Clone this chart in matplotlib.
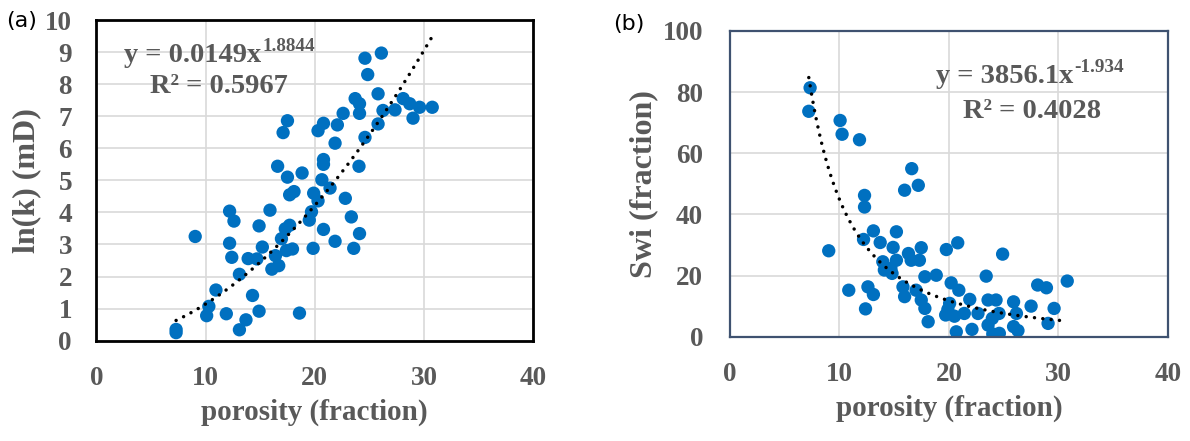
import numpy as np
import matplotlib
matplotlib.use("Agg")
import matplotlib.pyplot as plt

plt.rcParams['font.family'] = ['Liberation Serif', 'DejaVu Serif']

# panel (a): porosity vs ln(k)
phi_a = [7.3, 7.3, 9.05, 10.1, 10.3, 10.95, 11.9, 12.2, 12.6, 12.2, 12.4, 13.1,
         13.1, 13.7, 13.9, 14.3, 14.9, 14.9, 14.7, 15.2, 15.9, 16.07, 16.7, 16.4,
         16.95, 17.3, 17.7, 17.4, 17.96, 16.6, 17.1, 17.5, 17.5, 17.7, 18.1, 18.84,
         18.6, 19.5, 19.7, 19.85, 19.9, 20.3, 20.65, 20.8, 20.8, 20.3, 20.8, 20.8,
         21.4, 21.86, 21.86, 22.07, 22.6, 22.8, 23.35, 23.57, 24.1, 24.05, 23.7,
         24.1, 24.1, 24.6, 24.6, 24.85, 25.8, 25.8, 26.1, 26.25, 27.35, 28.1,
         28.7, 29.0, 29.6, 30.76]
lnk = [0.35, 0.25, 3.25, 0.78, 1.07, 1.58, 0.84, 4.04, 3.73, 3.04, 2.6, 2.07,
       0.34, 0.65, 2.56, 1.41, 0.92, 3.58, 2.55, 2.92, 4.07, 2.23, 2.34, 2.65,
       3.18, 3.49, 3.6, 2.81, 2.86, 5.44, 6.49, 6.86, 5.1, 4.55, 4.65, 5.23,
       0.86, 3.76, 4.02, 2.88, 4.6, 4.36, 5.02, 5.65, 5.5, 6.55, 6.78, 3.47,
       4.76, 3.1, 6.16, 6.73, 7.09, 4.44, 3.86, 2.88, 3.34, 5.44, 7.55,
       7.39, 7.09, 6.34, 8.81, 8.3, 7.7, 6.76, 8.97, 7.18, 7.2, 7.55,
       7.39, 6.94, 7.28, 7.28]

# panel (b): porosity vs Swi
phi_b = [7.32, 7.2, 10.06, 10.24, 11.83, 9.02, 10.85, 12.29, 12.29, 12.2, 12.6,
         13.1, 12.38, 13.1, 13.72, 13.96, 14.7, 14.9, 15.2, 15.2, 14.8, 15.95,
         16.6, 17.2, 16.3, 16.55, 17.3, 17.47, 15.8, 15.95, 17.0, 17.47, 17.8,
         17.8, 18.1, 18.84, 19.76, 20.8, 20.2, 20.9, 20.06, 19.7, 20.5, 20.67,
         21.4, 21.9, 22.1, 22.65, 23.4, 23.57, 24.3, 23.96, 24.57, 23.57, 24.0,
         24.6, 24.9, 25.9, 26.16, 25.9, 26.3, 27.5, 28.1, 28.9, 29.6, 29.05,
         30.8, 14.1, 19.9]
swi = [81.4, 73.7, 70.7, 66.2, 64.4, 28.1, 15.2, 46.2, 42.4, 31.8, 16.3,
       13.8, 9.1, 34.6, 30.8, 24.5, 22.3, 29.2, 34.3, 25.0, 20.7, 47.9,
       54.95, 49.5, 27.2, 25.0, 25.0, 29.1, 16.3, 13.1, 15.2, 12.0, 19.6,
       9.25, 4.9, 20.1, 28.5, 30.7, 17.6, 15.2, 10.9, 7.1, 6.7, 1.6,
       7.6, 12.2, 2.4, 7.6, 19.8, 12.0, 12.0, 6.0, 7.6, 3.8, 0.9,
       1.1, 27.0, 11.4, 7.6, 3.3, 2.0, 10.0, 16.9, 16.0, 9.25, 4.35,
       18.2, 21.8, 8.9]

blue = '#0070C0'
gray = '#595959'
grid_c = '#D9D9D9'


def style_axes(ax, frame_color, frame_lw, ypad):
    ax.set_xlim(0, 40)
    ax.set_xticks([0, 10, 20, 30, 40])
    ax.grid(True, color=grid_c, linewidth=1.2)
    ax.set_axisbelow(True)
    ax.tick_params(length=0, labelsize=19.5, labelcolor=gray)
    ax.tick_params(axis='x', pad=18)
    ax.tick_params(axis='y', pad=ypad)
    for lab in ax.get_xticklabels() + ax.get_yticklabels():
        lab.set_fontweight('bold')
    for sp in ax.spines.values():
        sp.set_color(frame_color)
        sp.set_linewidth(frame_lw)
    ax.set_xlabel('porosity (fraction)', fontsize=21, fontweight='bold',
                  color=gray, labelpad=6)


def equation(ax, x, y, base, power, r2, x2, y2):
    t = ax.text(x, y, base, transform=ax.transAxes, ha='left', va='baseline',
                fontsize=20.5, fontweight='bold', color=gray)
    ax.annotate(power, xy=(1, 1), xycoords=t, xytext=(0.5, 3.5),
                textcoords='offset points', ha='left', va='top',
                fontsize=13.8, fontweight='bold', color=gray)
    ax.text(x2, y2, r2, transform=ax.transAxes, ha='left', va='baseline',
            fontsize=20.5, fontweight='bold', color=gray)


fig = plt.figure(figsize=(11.9, 4.41), dpi=100)
ax1 = fig.add_axes([0.081, 0.2275, 0.367, 0.727])
ax2 = fig.add_axes([0.6134, 0.2365, 0.3681, 0.6935])

dots = (0, (0.01, 2.4))

# (a)
xf = np.linspace(min(phi_a), 30.8, 200)
ax1.plot(xf, 0.0149 * xf ** 1.8844, color='black', linestyle=dots,
         linewidth=2.5, dash_capstyle='round', zorder=3)
ax1.scatter(phi_a, lnk, s=92, color=blue, edgecolors='none', zorder=2)
ax1.set_ylim(0, 10)
ax1.set_yticks(range(0, 11))
style_axes(ax1, 'black', 2.0, 17.6)
ax1.set_ylabel('ln(k) (mD)', fontsize=23, fontweight='bold', color=gray,
               labelpad=3)
equation(ax1, 0.064, 0.869, 'y = 0.0149x', '1.8844', 'R² = 0.5967', 0.1226, 0.772)
fig.text(0.005, 0.952, '(a)', fontsize=16, family='DejaVu Sans', va='center')

# (b)
xf = np.linspace(min(phi_b), 30.8, 200)
ax2.plot(xf, 3856.1 * xf ** -1.934, color='black', linestyle=dots,
         linewidth=2.5, dash_capstyle='round', zorder=3)
ax2.scatter(phi_b, swi, s=92, color=blue, edgecolors='none', zorder=2)
ax2.set_ylim(0, 100)
ax2.set_yticks(range(0, 101, 20))
style_axes(ax2, '#3F5270', 1.6, 19.4)
ax2.set_ylabel('Swi (fraction)', fontsize=23, fontweight='bold', color=gray,
               labelpad=3)
equation(ax2, 0.470, 0.829, 'y = 3856.1x', '-1.934', 'R² = 0.4028', 0.531, 0.714)
fig.text(0.515, 0.945, '(b)', fontsize=16, family='DejaVu Sans', va='center')

fig.savefig('out.png', dpi=100)
